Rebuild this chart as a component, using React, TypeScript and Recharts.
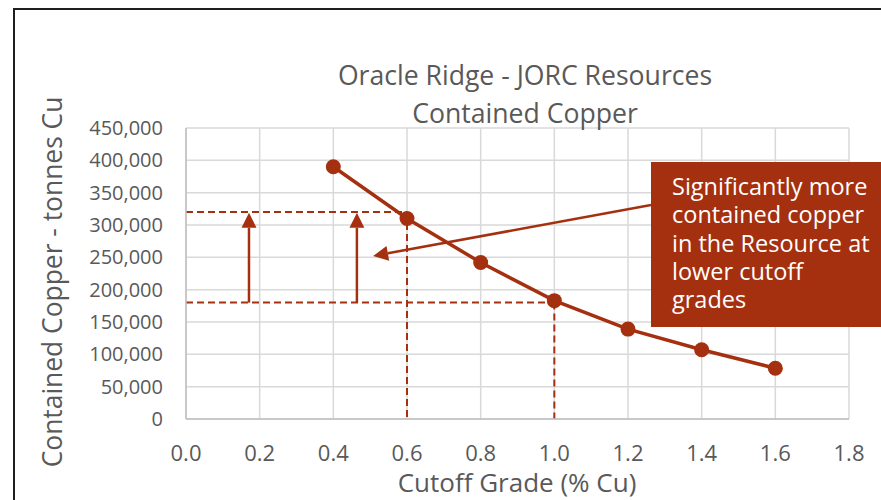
import {
  ComposedChart, Line, XAxis, YAxis, CartesianGrid, ReferenceLine, Customized,
} from 'recharts';

const ACCENT = '#A5300F';
const TEXT = '#595959';
const FONT = '"Open Sans", sans-serif';

// cutoff grade (% Cu) vs contained copper (t)
const grades = [0.4, 0.6, 0.8, 1.0, 1.2, 1.4, 1.6];
const copperTonnes = [390000, 310000, 242000, 183000, 139000, 107000, 78500];

const xTicks = [0, 0.2, 0.4, 0.6, 0.8, 1.0, 1.2, 1.4, 1.6, 1.8];
const yTicks = [0, 50000, 100000, 150000, 200000, 250000, 300000, 350000, 400000, 450000];

const titleLines = ['Oracle Ridge - JORC Resources', 'Contained Copper'];
const noteLines = ['Significantly more', 'contained copper', 'in the Resource at', 'lower cutoff', 'grades'];

// guide lines (dashed) and arrows, in data units
const dashedGuides = [
  [{ x: 0, y: 320000 }, { x: 0.6, y: 320000 }],
  [{ x: 0, y: 180000 }, { x: 1.0, y: 180000 }],
  [{ x: 0.6, y: 320000 }, { x: 0.6, y: 0 }],
  [{ x: 1.0, y: 180000 }, { x: 1.0, y: 0 }],
];
const arrows = [
  [{ x: 0.171, y: 180000 }, { x: 0.171, y: 319000 }],
  [{ x: 0.464, y: 180000 }, { x: 0.464, y: 319000 }],
  [{ x: 1.2625, y: 331000 }, { x: 0.508, y: 252000 }],
];

const data = grades.map((g, i) => ({ grade: g, copper: copperTonnes[i] }));

const fmtThousands = (v: number) => v.toLocaleString('en-US');

function ArrowShape(props: any) {
  const { x1, y1, x2, y2 } = props;
  if ([x1, y1, x2, y2].some(v => v == null || isNaN(v))) return null;
  const ang = Math.atan2(y2 - y1, x2 - x1);
  const len = 15;
  const half = 7.5;
  const bx = x2 - len * Math.cos(ang);
  const by = y2 - len * Math.sin(ang);
  const px = -Math.sin(ang) * half;
  const py = Math.cos(ang) * half;
  return (
    <g>
      <line x1={x1} y1={y1} x2={bx} y2={by} stroke={ACCENT} strokeWidth={2.5} />
      <polygon points={`${x2},${y2} ${bx + px},${by + py} ${bx - px},${by - py}`} fill={ACCENT} />
    </g>
  );
}

function Decorations() {
  return (
    <g fontFamily={FONT}>
      {titleLines.map((t, i) => (
        <text key={t} x={525} y={85 + i * 38} textAnchor="middle" fontSize={26.6} fill={TEXT}>{t}</text>
      ))}
      <text x={517} y={492} textAnchor="middle" fontSize={26} fill={TEXT}>Cutoff Grade (% Cu)</text>
      <text transform="translate(62,282) rotate(-90)" textAnchor="middle" fontSize={26.4} fill={TEXT}>
        Contained Copper - tonnes Cu
      </text>
      <rect x={651} y={162} width={240} height={165} fill={ACCENT} />
      {noteLines.map((t, i) => (
        <text key={t} x={672} y={195 + i * 28.3} fontSize={23.5} fill="#ffffff">{t}</text>
      ))}
    </g>
  );
}

export default function App() {
  return (
    <div style={{ position: 'absolute', left: 0, top: 0, width: 881, height: 500, overflow: 'hidden', background: '#fff' }}>
      <div style={{ position: 'absolute', left: 13, top: 8, width: 900, height: 600, borderLeft: '2px solid #1f1f1f', borderTop: '2px solid #1f1f1f' }} />
      <ComposedChart
        width={881}
        height={500}
        data={data}
        margin={{ top: 128, right: 32, bottom: 51, left: 0 }}
        style={{ position: 'absolute', left: 0, top: 0 }}
      >
        <CartesianGrid stroke="#d9d9d9" strokeWidth={1.5} />
        <XAxis
          type="number"
          dataKey="grade"
          domain={[0, 1.8]}
          ticks={xTicks}
          tickFormatter={(v: number) => v.toFixed(1)}
          height={30}
          tickLine={false}
          tickSize={0}
          tickMargin={26}
          stroke="#bfbfbf"
          strokeWidth={1.5}
          tick={{ fill: TEXT, fontSize: 22, fontFamily: FONT }}
          interval={0}
        />
        <YAxis
          type="number"
          domain={[0, 450000]}
          ticks={yTicks}
          tickFormatter={fmtThousands}
          width={186}
          tickLine={false}
          tickSize={0}
          tickMargin={23}
          stroke="#bfbfbf"
          strokeWidth={1.5}
          tick={{ fill: TEXT, fontSize: 20, fontFamily: FONT }}
          interval={0}
        />
        {dashedGuides.map((seg, i) => (
          <ReferenceLine key={`d${i}`} segment={seg} stroke={ACCENT} strokeWidth={2} strokeDasharray="7 4" />
        ))}
        {arrows.map((seg, i) => (
          <ReferenceLine key={`a${i}`} segment={seg} shape={ArrowShape} />
        ))}
        <Line
          type="linear"
          dataKey="copper"
          stroke={ACCENT}
          strokeWidth={3.5}
          dot={{ r: 7.5, fill: ACCENT, stroke: ACCENT, strokeWidth: 0 }}
          activeDot={false}
          isAnimationActive={false}
        />
        <Customized component={Decorations} />
      </ComposedChart>
    </div>
  );
}
